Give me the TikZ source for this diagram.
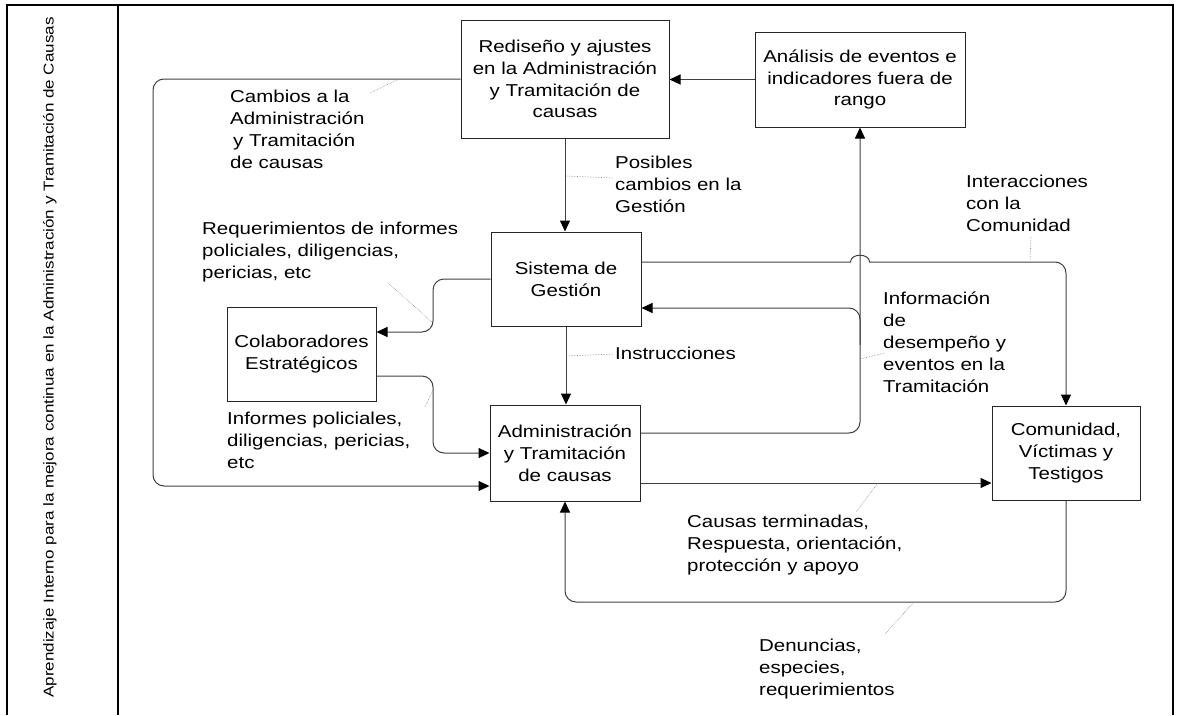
\documentclass[tikz,border=0pt]{standalone}
\usepackage{fontspec}
\setmainfont{Liberation Sans}[FakeStretch=1.19]
\usetikzlibrary{arrows.meta}
\begin{document}
\begin{tikzpicture}[x=1pt,y=-1pt,
  box/.style={draw=black!85, line width=1pt, align=center, inner sep=0pt,
    font=\fontsize{17.2}{21.8}\selectfont},
  lbl/.style={anchor=north west, align=left, inner sep=0pt,
    font=\fontsize{17.2}{21.8}\selectfont, execute at begin node={\rule{0pt}{13pt}}},
  conn/.style={draw=black!75, line width=1pt, rounded corners=11pt,
    -{Triangle[length=11pt,width=10pt,color=black]}},
  leader/.style={draw=black!45, line width=0.6pt, densely dotted},
  frame/.style={draw=black, line width=1.8pt}]

\useasboundingbox (0,0) rectangle (1178,715);

% outer frame and side band
\draw[frame] (7,715) -- (7,5) -- (1173,5) -- (1173,715);
\draw[frame] (118,5) -- (118,715);
\node[rotate=90, anchor=base, inner sep=0pt, font=\fontsize{14.3}{16}\selectfont]
  (side) at (53.5,357.5)
  {Aprendizaje Interno para la mejora continua en la Administración y Tramitación de Causas};

% process boxes
\node[box, minimum width=208pt, minimum height=118pt] (redis) at (565,79)
  {Rediseño y ajustes\\en la Administración\\y Tramitación de\\causas};
\node[box, minimum width=210pt, minimum height=95pt] (anal) at (860,79.5)
  {Análisis de eventos e\\indicadores fuera de\\rango};
\node[box, minimum width=150pt, minimum height=94pt] (sist) at (566,279)
  {Sistema de\\Gestión};
\node[box, minimum width=149pt, minimum height=94pt] (colab) at (301.5,354)
  {Colaboradores\\Estratégicos};
\node[box, minimum width=150pt, minimum height=96pt] (admin) at (565,453)
  {Administración\\y Tramitación\\de causas};
\node[box, minimum width=148pt, minimum height=94pt] (comu) at (1066,453)
  {Comunidad,\\Víctimas y\\Testigos};

% flow labels
\node[lbl] (lposib) at (615,156) {Posibles\\cambios en la\\Gestión};
\node[lbl] (lcamb) at (230,90) {Cambios a la\\Administración\\\hspace*{3pt}y Tramitación\\de causas};
\node[lbl] (lreq) at (202,222) {Requerimientos de informes\\policiales, diligencias,\\pericias, etc};
\node[lbl] (linf) at (227,412) {Informes policiales,\\diligencias, pericias,\\etc};
\node[lbl] (linstr) at (615,346) {Instrucciones};
\node[lbl] (ldes) at (883,292) {Información\\de\\desempeño y\\eventos en la\\Tramitación};
\node[lbl] (linter) at (966,175) {Interacciones\\con la\\Comunidad};
\node[lbl] (lcaus) at (687,515) {Causas terminadas,\\Respuesta, orientación,\\protección y apoyo};
\node[lbl] (lden) at (759,639) {Denuncias,\\especies,\\requerimientos};

% connectors
\draw[conn] (anal.west) -- (anal.west -| redis.east);
\draw[conn] (redis.south) -- (redis.south |- sist.north);
\draw[conn] (redis.west) -- (153,79) -- (153,486) -- (admin.west |- 0,486);
\draw[conn] (sist.west) -- (433,279) -- (433,332) -- (colab.east |- 0,332);
\draw[conn] (colab.east |- 0,376) -- (433,376) -- (433,453) -- (admin.west);
\draw[conn] (sist.south) -- (sist.south |- admin.north);
\draw[conn] (admin.east |- 0,433) -- (860,433) -- (anal.south);
\draw[conn] (860,345) -- (860,308) -- (sist.east |- 0,308);
% line hop where this connector crosses the vertical one at x = 860
\draw[conn, sharp corners] (sist.east |- 0,262) -- (850.5,262)
  .. controls (850.5,253) and (869.5,253) .. (869.5,262)
  -- (1000,262) [rounded corners=11pt] -- (1066,262) -- (comu.north);
\draw[conn] (admin.east |- 0,483) -- (comu.west |- 0,483);
\draw[conn] (comu.south) -- (1066,602) -- (565,602) -- (admin.south);

% label leaders
\draw[leader] (566,176) -- (613,178);
\draw[leader] (370,93) -- (397,80);
\draw[leader] (388,283) -- (432,322);
\draw[leader] (425,407) -- (433,390);
\draw[leader] (566,356) -- (614,354);
\draw[leader] (860,359) -- (885,353);
\draw[leader] (1031,237) -- (1030,261);
\draw[leader] (856,512) -- (878,483);
\draw[leader] (885,634) -- (913,603);
\end{tikzpicture}
\end{document}
